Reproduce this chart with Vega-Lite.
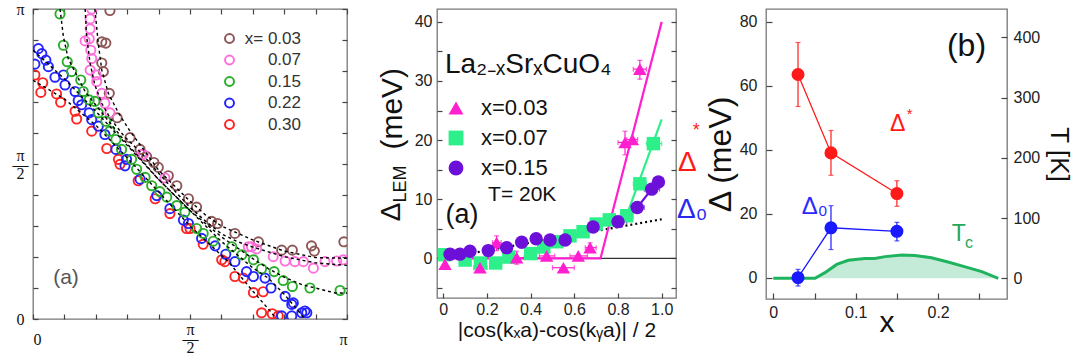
{
  "$schema": "https://vega.github.io/schema/vega-lite/v6.json",
  "background": "white",
  "padding": {"left": 11, "top": 0, "right": 0, "bottom": 0},
  "bounds": "flush",
  "spacing": 90,
  "resolve": {"scale": {"color": "independent", "shape": "independent"}, "legend": {"color": "independent", "shape": "independent"}},
  "config": {
    "font": "Liberation Sans",
    "view": {"stroke": "#777", "strokeWidth": 1.3},
    "axis": {"grid": false, "domain": false, "tickColor": "#444", "tickWidth": 1.2, "labelColor": "#222", "titleColor": "#111", "titleFontWeight": "normal", "labelFont": "Liberation Sans", "titleFont": "Liberation Sans", "labelOverlap": false},
    "legend": {"labelFont": "Liberation Sans"}
  },
  "datasets": {
    "fs": [
      {"s":"0.30","kx":0.006,"ky":0.787},{"s":"0.30","kx":0.031,"ky":0.762},{"s":"0.30","kx":0.025,"ky":0.731},{"s":"0.30","kx":0.075,"ky":0.726},{"s":"0.30","kx":0.088,"ky":0.699},{"s":"0.30","kx":0.134,"ky":0.670},{"s":"0.30","kx":0.139,"ky":0.645},{"s":"0.30","kx":0.187,"ky":0.606},{"s":"0.30","kx":0.235,"ky":0.550},{"s":"0.30","kx":0.272,"ky":0.515},{"s":"0.30","kx":0.277,"ky":0.499},{"s":"0.30","kx":0.335,"ky":0.446},{"s":"0.30","kx":0.389,"ky":0.388},{"s":"0.30","kx":0.436,"ky":0.340},{"s":"0.30","kx":0.489,"ky":0.292},{"s":"0.30","kx":0.5,"ky":0.292},{"s":"0.30","kx":0.542,"ky":0.241},{"s":"0.30","kx":0.601,"ky":0.191},{"s":"0.30","kx":0.611,"ky":0.185},{"s":"0.30","kx":0.643,"ky":0.137},{"s":"0.30","kx":0.670,"ky":0.132},{"s":"0.30","kx":0.702,"ky":0.085},{"s":"0.30","kx":0.733,"ky":0.088},{"s":"0.30","kx":0.728,"ky":0.020},{"s":"0.30","kx":0.762,"ky":0.017},{"s":"0.30","kx":0.781,"ky":0.010},
      {"s":"0.22","kx":0.017,"ky":0.872},{"s":"0.22","kx":0.028,"ky":0.856},{"s":"0.22","kx":0.006,"ky":0.822},{"s":"0.22","kx":0.041,"ky":0.835},{"s":"0.22","kx":0.049,"ky":0.814},{"s":"0.22","kx":0.070,"ky":0.780},{"s":"0.22","kx":0.097,"ky":0.787},{"s":"0.22","kx":0.102,"ky":0.755},{"s":"0.22","kx":0.134,"ky":0.734},{"s":"0.22","kx":0.144,"ky":0.705},{"s":"0.22","kx":0.155,"ky":0.691},{"s":"0.22","kx":0.179,"ky":0.665},{"s":"0.22","kx":0.187,"ky":0.643},{"s":"0.22","kx":0.208,"ky":0.622},{"s":"0.22","kx":0.229,"ky":0.595},{"s":"0.22","kx":0.264,"ky":0.547},{"s":"0.22","kx":0.298,"ky":0.515},{"s":"0.22","kx":0.293,"ky":0.494},{"s":"0.22","kx":0.341,"ky":0.451},{"s":"0.22","kx":0.394,"ky":0.398},{"s":"0.22","kx":0.436,"ky":0.356},{"s":"0.22","kx":0.479,"ky":0.319},{"s":"0.22","kx":0.495,"ky":0.308},{"s":"0.22","kx":0.537,"ky":0.260},{"s":"0.22","kx":0.580,"ky":0.236},{"s":"0.22","kx":0.614,"ky":0.209},{"s":"0.22","kx":0.643,"ky":0.185},{"s":"0.22","kx":0.680,"ky":0.153},{"s":"0.22","kx":0.702,"ky":0.137},{"s":"0.22","kx":0.739,"ky":0.132},{"s":"0.22","kx":0.758,"ky":0.100},{"s":"0.22","kx":0.792,"ky":0.010},{"s":"0.22","kx":0.803,"ky":0.073},{"s":"0.22","kx":0.824,"ky":0.047},{"s":"0.22","kx":0.829,"ky":0.052},{"s":"0.22","kx":0.856,"ky":0.020},{"s":"0.22","kx":0.866,"ky":0.026},{"s":"0.22","kx":0.824,"ky":0.010},{"s":"0.22","kx":0.872,"ky":0.020},
      {"s":"0.03","kx":0.245,"ky":0.995},{"s":"0.03","kx":0.219,"ky":0.894},{"s":"0.03","kx":0.232,"ky":0.890},{"s":"0.03","kx":0.219,"ky":0.826},{"s":"0.03","kx":0.224,"ky":0.798},{"s":"0.03","kx":0.243,"ky":0.728},{"s":"0.03","kx":0.268,"ky":0.649},{"s":"0.03","kx":0.309,"ky":0.585},{"s":"0.03","kx":0.341,"ky":0.547},{"s":"0.03","kx":0.362,"ky":0.524},{"s":"0.03","kx":0.385,"ky":0.505},{"s":"0.03","kx":0.399,"ky":0.489},{"s":"0.03","kx":0.431,"ky":0.462},{"s":"0.03","kx":0.458,"ky":0.430},{"s":"0.03","kx":0.495,"ky":0.388},{"s":"0.03","kx":0.521,"ky":0.361},{"s":"0.03","kx":0.569,"ky":0.315},{"s":"0.03","kx":0.588,"ky":0.308},{"s":"0.03","kx":0.643,"ky":0.276},{"s":"0.03","kx":0.718,"ky":0.249},{"s":"0.03","kx":0.792,"ky":0.222},{"s":"0.03","kx":0.826,"ky":0.222},{"s":"0.03","kx":0.887,"ky":0.236},{"s":"0.03","kx":0.896,"ky":0.219},{"s":"0.03","kx":0.990,"ky":0.249},
      {"s":"0.07","kx":0.187,"ky":1.0},{"s":"0.07","kx":0.182,"ky":0.968},{"s":"0.07","kx":0.182,"ky":0.936},{"s":"0.07","kx":0.179,"ky":0.904},{"s":"0.07","kx":0.166,"ky":0.897},{"s":"0.07","kx":0.184,"ky":0.867},{"s":"0.07","kx":0.187,"ky":0.840},{"s":"0.07","kx":0.182,"ky":0.803},{"s":"0.07","kx":0.201,"ky":0.787},{"s":"0.07","kx":0.203,"ky":0.766},{"s":"0.07","kx":0.219,"ky":0.728},{"s":"0.07","kx":0.229,"ky":0.696},{"s":"0.07","kx":0.245,"ky":0.665},{"s":"0.07","kx":0.346,"ky":0.531},{"s":"0.07","kx":0.351,"ky":0.531},{"s":"0.07","kx":0.42,"ky":0.455},{"s":"0.07","kx":0.686,"ky":0.233},{"s":"0.07","kx":0.696,"ky":0.233},{"s":"0.07","kx":0.712,"ky":0.226},{"s":"0.07","kx":0.765,"ky":0.201},{"s":"0.07","kx":0.803,"ky":0.187},{"s":"0.07","kx":0.834,"ky":0.185},{"s":"0.07","kx":0.861,"ky":0.185},{"s":"0.07","kx":0.893,"ky":0.164},{"s":"0.07","kx":0.930,"ky":0.185},{"s":"0.07","kx":0.967,"ky":0.187},{"s":"0.07","kx":0.988,"ky":0.191},
      {"s":"0.15","kx":0.086,"ky":0.984},{"s":"0.15","kx":0.097,"ky":0.883},{"s":"0.15","kx":0.109,"ky":0.830},{"s":"0.15","kx":0.123,"ky":0.798},{"s":"0.15","kx":0.152,"ky":0.771},{"s":"0.15","kx":0.160,"ky":0.734},{"s":"0.15","kx":0.179,"ky":0.707},{"s":"0.15","kx":0.197,"ky":0.702},{"s":"0.15","kx":0.208,"ky":0.665},{"s":"0.15","kx":0.232,"ky":0.638},{"s":"0.15","kx":0.245,"ky":0.606},{"s":"0.15","kx":0.264,"ky":0.579},{"s":"0.15","kx":0.282,"ky":0.547},{"s":"0.15","kx":0.314,"ky":0.515},{"s":"0.15","kx":0.330,"ky":0.483},{"s":"0.15","kx":0.357,"ky":0.457},{"s":"0.15","kx":0.378,"ky":0.430},{"s":"0.15","kx":0.404,"ky":0.411},{"s":"0.15","kx":0.426,"ky":0.393},{"s":"0.15","kx":0.458,"ky":0.366},{"s":"0.15","kx":0.484,"ky":0.345},{"s":"0.15","kx":0.521,"ky":0.292},{"s":"0.15","kx":0.542,"ky":0.276},{"s":"0.15","kx":0.574,"ky":0.251},{"s":"0.15","kx":0.633,"ky":0.233},{"s":"0.15","kx":0.665,"ky":0.207},{"s":"0.15","kx":0.702,"ky":0.191},{"s":"0.15","kx":0.728,"ky":0.162},{"s":"0.15","kx":0.768,"ky":0.153},{"s":"0.15","kx":0.797,"ky":0.124},{"s":"0.15","kx":0.826,"ky":0.105},{"s":"0.15","kx":0.882,"ky":0.100},{"s":"0.15","kx":0.978,"ky":0.092}
    ],
    "fits": [
      {"s":"0.03","kx":0.197,"ky":1.0},{"s":"0.03","kx":0.208,"ky":0.888},{"s":"0.03","kx":0.219,"ky":0.803},{"s":"0.03","kx":0.240,"ky":0.728},{"s":"0.03","kx":0.272,"ky":0.665},{"s":"0.03","kx":0.309,"ky":0.606},{"s":"0.03","kx":0.35,"ky":0.55},{"s":"0.03","kx":0.40,"ky":0.48},{"s":"0.03","kx":0.45,"ky":0.43},{"s":"0.03","kx":0.5,"ky":0.38},{"s":"0.03","kx":0.55,"ky":0.335},{"s":"0.03","kx":0.6,"ky":0.3},{"s":"0.03","kx":0.7,"ky":0.255},{"s":"0.03","kx":0.8,"ky":0.219},{"s":"0.03","kx":0.9,"ky":0.198},{"s":"0.03","kx":1.0,"ky":0.196},
      {"s":"0.07","kx":0.166,"ky":1.0},{"s":"0.07","kx":0.171,"ky":0.91},{"s":"0.07","kx":0.182,"ky":0.824},{"s":"0.07","kx":0.197,"ky":0.755},{"s":"0.07","kx":0.219,"ky":0.696},{"s":"0.07","kx":0.245,"ky":0.649},{"s":"0.07","kx":0.29,"ky":0.59},{"s":"0.07","kx":0.35,"ky":0.53},{"s":"0.07","kx":0.4,"ky":0.47},{"s":"0.07","kx":0.45,"ky":0.415},{"s":"0.07","kx":0.5,"ky":0.36},{"s":"0.07","kx":0.55,"ky":0.315},{"s":"0.07","kx":0.6,"ky":0.275},{"s":"0.07","kx":0.65,"ky":0.25},{"s":"0.07","kx":0.7,"ky":0.232},{"s":"0.07","kx":0.8,"ky":0.201},{"s":"0.07","kx":0.9,"ky":0.181},{"s":"0.07","kx":1.0,"ky":0.173},
      {"s":"0.15","kx":0.086,"ky":1.0},{"s":"0.15","kx":0.097,"ky":0.91},{"s":"0.15","kx":0.112,"ky":0.84},{"s":"0.15","kx":0.139,"ky":0.787},{"s":"0.15","kx":0.166,"ky":0.734},{"s":"0.15","kx":0.203,"ky":0.686},{"s":"0.15","kx":0.245,"ky":0.633},{"s":"0.15","kx":0.288,"ky":0.579},{"s":"0.15","kx":0.33,"ky":0.531},{"s":"0.15","kx":0.4,"ky":0.45},{"s":"0.15","kx":0.5,"ky":0.35},{"s":"0.15","kx":0.6,"ky":0.265},{"s":"0.15","kx":0.7,"ky":0.195},{"s":"0.15","kx":0.75,"ky":0.162},{"s":"0.15","kx":0.8,"ky":0.135},{"s":"0.15","kx":0.856,"ky":0.111},{"s":"0.15","kx":0.962,"ky":0.084},{"s":"0.15","kx":1.0,"ky":0.084},
      {"s":"0.22","kx":0.0,"ky":0.867},{"s":"0.22","kx":0.1,"ky":0.775},{"s":"0.22","kx":0.2,"ky":0.67},{"s":"0.22","kx":0.3,"ky":0.56},{"s":"0.22","kx":0.4,"ky":0.45},{"s":"0.22","kx":0.5,"ky":0.35},{"s":"0.22","kx":0.6,"ky":0.25},{"s":"0.22","kx":0.7,"ky":0.165},{"s":"0.22","kx":0.749,"ky":0.132},{"s":"0.22","kx":0.8,"ky":0.08},{"s":"0.22","kx":0.845,"ky":0.026},{"s":"0.22","kx":0.865,"ky":0.0},
      {"s":"0.30","kx":0.0,"ky":0.77},{"s":"0.30","kx":0.1,"ky":0.71},{"s":"0.30","kx":0.2,"ky":0.625},{"s":"0.30","kx":0.3,"ky":0.52},{"s":"0.30","kx":0.4,"ky":0.41},{"s":"0.30","kx":0.5,"ky":0.3},{"s":"0.30","kx":0.622,"ky":0.185},{"s":"0.30","kx":0.7,"ky":0.09},{"s":"0.30","kx":0.755,"ky":0.026},{"s":"0.30","kx":0.775,"ky":0.0}
    ],
    "p2pts": [
      {"s":"0.07","x":0.005,"y":0.6},{"s":"0.07","x":0.1,"y":-0.3},{"s":"0.07","x":0.17,"y":-0.8},{"s":"0.07","x":0.24,"y":-0.8},{"s":"0.07","x":0.3,"y":0.2},{"s":"0.07","x":0.4,"y":0.8},{"s":"0.07","x":0.46,"y":1.9},{"s":"0.07","x":0.52,"y":2.8},{"s":"0.07","x":0.58,"y":3.8},{"s":"0.07","x":0.64,"y":4.5},{"s":"0.07","x":0.7,"y":5.8},{"s":"0.07","x":0.76,"y":6.5},{"s":"0.07","x":0.84,"y":7.2},{"s":"0.07","x":0.9,"y":12.6},{"s":"0.07","x":0.962,"y":19.4},
      {"s":"0.03","x":0.008,"y":-1.0},{"s":"0.03","x":0.168,"y":-1.6},{"s":"0.03","x":0.244,"y":2.65},{"s":"0.03","x":0.336,"y":0.1},{"s":"0.03","x":0.473,"y":0.4},{"s":"0.03","x":0.55,"y":-1.6},{"s":"0.03","x":0.618,"y":0.4},{"s":"0.03","x":0.672,"y":1.8},{"s":"0.03","x":0.832,"y":19.6},{"s":"0.03","x":0.866,"y":20.1},{"s":"0.03","x":0.9,"y":32.0},
      {"s":"0.15","x":0.031,"y":0.68},{"s":"0.15","x":0.076,"y":0.7},{"s":"0.15","x":0.122,"y":1.2},{"s":"0.15","x":0.206,"y":1.3},{"s":"0.15","x":0.29,"y":1.8},{"s":"0.15","x":0.359,"y":2.7},{"s":"0.15","x":0.425,"y":3.3},{"s":"0.15","x":0.489,"y":3.1},{"s":"0.15","x":0.558,"y":3.1},{"s":"0.15","x":0.686,"y":5.3},{"s":"0.15","x":0.8,"y":6.2},{"s":"0.15","x":0.888,"y":8.6},{"s":"0.15","x":0.954,"y":11.7},{"s":"0.15","x":0.985,"y":12.9}
    ],
    "p2err": [
      {"s":"0.03","x":0.168,"y":-1.6,"xlo":0.14,"xhi":0.2,"ylo":-2.4,"yhi":-0.8},
      {"s":"0.03","x":0.244,"y":2.65,"xlo":0.225,"xhi":0.265,"ylo":1.3,"yhi":3.8},
      {"s":"0.03","x":0.336,"y":0.1,"xlo":0.3,"xhi":0.37,"ylo":-1.0,"yhi":1.2},
      {"s":"0.03","x":0.473,"y":0.4,"xlo":0.44,"xhi":0.51},
      {"s":"0.03","x":0.55,"y":-1.6,"xlo":0.5,"xhi":0.6},
      {"s":"0.03","x":0.618,"y":0.4,"xlo":0.58,"xhi":0.66},
      {"s":"0.03","x":0.672,"y":1.8,"xlo":0.65,"xhi":0.7,"ylo":1.0,"yhi":2.6},
      {"s":"0.03","x":0.832,"y":19.6,"xlo":0.8,"xhi":0.86,"ylo":17.5,"yhi":21.5},
      {"s":"0.03","x":0.866,"y":20.1,"xlo":0.84,"xhi":0.89},
      {"s":"0.03","x":0.9,"y":32.0,"xlo":0.87,"xhi":0.93,"ylo":30.3,"yhi":33.5},
      {"s":"0.07","x":0.58,"y":3.8,"xlo":0.55,"xhi":0.61},
      {"s":"0.07","x":0.7,"y":5.8,"xlo":0.67,"xhi":0.73},
      {"s":"0.07","x":0.84,"y":7.2,"xlo":0.81,"xhi":0.87},
      {"s":"0.07","x":0.9,"y":12.6,"xlo":0.87,"xhi":0.93},
      {"s":"0.07","x":0.962,"y":19.4,"xlo":0.93,"xhi":1.0},
      {"s":"0.15","x":0.686,"y":5.3,"xlo":0.66,"xhi":0.72},
      {"s":"0.15","x":0.8,"y":6.2,"xlo":0.77,"xhi":0.84},
      {"s":"0.15","x":0.888,"y":8.6,"xlo":0.86,"xhi":0.92},
      {"s":"0.15","x":0.954,"y":11.7,"xlo":0.92,"xhi":0.99}
    ],
    "p2fit": [
      {"s":"0.03","x":0.0,"y":0},{"s":"0.03","x":0.72,"y":0},{"s":"0.03","x":1.0,"y":40},
      {"s":"0.07","x":0.835,"y":6.8},{"s":"0.07","x":1.0,"y":23.5},
      {"s":"0.15","x":0.888,"y":8.6},{"s":"0.15","x":0.954,"y":11.7},{"s":"0.15","x":0.985,"y":12.9}
    ],
    "p2dot": [{"x":0.0,"y":0.0},{"x":1.0,"y":6.6}],
    "p3pts": [
      {"s":"Δ*","x":0.03,"y":63.5,"lo":53.5,"hi":73.5},
      {"s":"Δ*","x":0.07,"y":39.0,"lo":32.0,"hi":46.0},
      {"s":"Δ*","x":0.15,"y":26.3,"lo":22.3,"hi":30.3},
      {"s":"Δ0","x":0.03,"y":0.0,"lo":-2.6,"hi":2.6},
      {"s":"Δ0","x":0.07,"y":15.6,"lo":8.8,"hi":22.5},
      {"s":"Δ0","x":0.15,"y":14.5,"lo":11.5,"hi":17.3}
    ],
    "p3tc": [
      {"x":0.0,"T":0},{"x":0.0506,"T":0},{"x":0.0627,"T":9.4},{"x":0.077,"T":23},{"x":0.091,"T":30},{"x":0.111,"T":33},{"x":0.123,"T":33},{"x":0.1356,"T":36},{"x":0.156,"T":38.5},{"x":0.172,"T":38},{"x":0.192,"T":34},{"x":0.212,"T":27},{"x":0.233,"T":19},{"x":0.253,"T":11},{"x":0.273,"T":0}
    ]
  },
  "hconcat": [
    {
      "width": 314,
      "height": 310,
      "layer": [
        {
          "data": {"name": "fs"},
          "mark": {"type": "point", "filled": false, "size": 85, "strokeWidth": 1.9, "opacity": 1, "clip": true},
          "encoding": {
            "x": {"field": "kx", "type": "quantitative", "scale": {"domain": [0, 1], "nice": false, "zero": false},
              "axis": {"orient": "bottom", "values": [0,0.1,0.2,0.3,0.4,0.5,0.6,0.7,0.8,0.9,1], "tickSize": -5, "labelPadding": {"condition": {"test": "datum.value == 0.5", "value": 7}, "value": 17}, "labelBaseline": "top", "labelFlush": true, "labelFont": "Liberation Serif", "labelFontSize": 16, "labelLineHeight": 9, "labelColor": "#111", "labelExpr": "datum.value == 0 ? '0' : datum.value == 0.5 ? ['π','—','2'] : datum.value == 1 ? 'π' : ''", "title": null}},
            "y": {"field": "ky", "type": "quantitative", "scale": {"domain": [0, 1], "nice": false, "zero": false},
              "axis": {"orient": "left", "values": [0,0.1,0.2,0.3,0.4,0.5,0.6,0.7,0.8,0.9,1], "tickSize": -5, "labelPadding": 18, "labelOffset": {"condition": {"test": "datum.value == 0.5", "value": -9}, "value": 0}, "labelAlign": "center", "labelBaseline": "middle", "labelFont": "Liberation Serif", "labelFontSize": 16, "labelLineHeight": 9, "labelColor": "#111", "labelExpr": "datum.value == 0 ? '0' : datum.value == 0.5 ? ['π','—','2'] : datum.value == 1 ? 'π' : ''", "title": null}},
            "color": {"field": "s", "type": "nominal",
              "scale": {"domain": ["0.03","0.07","0.15","0.22","0.30"], "range": ["#8E5656","#FF6EDC","#2BAE2B","#2424FF","#FF2424"]},
              "legend": {"orient": "none", "legendX": 188, "legendY": 21, "title": null, "labelAlign": "right", "labelOffset": 63, "labelFontSize": 17, "labelColor": "#333", "symbolType": "circle", "symbolSize": 80, "symbolStrokeWidth": 2, "symbolFillColor": "transparent", "rowPadding": 3.5, "labelExpr": "datum.label == '0.03' ? 'x= 0.03' : datum.label"}}
          }
        },
        {
          "data": {"name": "fits"},
          "mark": {"type": "line", "color": "#000", "strokeDash": [3, 3], "strokeWidth": 1.4, "clip": true},
          "encoding": {
            "x": {"field": "kx", "type": "quantitative", "axis": {"orient": "top", "values": [0,0.1,0.2,0.3,0.4,0.5,0.6,0.7,0.8,0.9,1], "tickSize": -5, "labels": false, "title": null}},
            "y": {"field": "ky", "type": "quantitative", "axis": {"orient": "right", "values": [0,0.1,0.2,0.3,0.4,0.5,0.6,0.7,0.8,0.9,1], "tickSize": -5, "labels": false, "title": null}},
            "detail": {"field": "s", "type": "nominal"}
          }
        },
        {
          "data": {"values": [{}]},
          "mark": {"type": "text", "text": "(a)", "fontSize": 21, "color": "#555", "align": "center", "baseline": "middle"},
          "encoding": {"x": {"datum": 0.105, "type": "quantitative", "axis": null}, "y": {"datum": 0.131, "type": "quantitative", "axis": null}}
        }
      ],
      "resolve": {"axis": {"x": "independent", "y": "independent"}}
    },
    {
      "width": 239,
      "height": 289,
      "layer": [
        {
          "data": {"values": [{}]},
          "mark": {"type": "rule", "color": "#333", "strokeWidth": 1.3},
          "encoding": {
            "y": {"datum": 0, "type": "quantitative", "scale": {"domain": [-6.72, 42.18], "nice": false, "zero": false},
              "axis": {"orient": "left", "values": [-5,0,5,10,15,20,25,30,35,40], "tickSize": -5, "labelPadding": 10, "labelFontSize": 16, "labelExpr": "datum.value % 10 == 0 ? datum.label : ''", "title": null}}
          }
        },
        {
          "data": {"name": "p2dot"},
          "mark": {"type": "line", "color": "#000", "strokeDash": [2, 3], "strokeWidth": 2.2},
          "encoding": {
            "x": {"field": "x", "type": "quantitative", "scale": {"domain": [-0.0288, 1.0655], "nice": false, "zero": false},
              "axis": {"orient": "bottom", "values": [0,0.2,0.4,0.6,0.8,1], "tickSize": -5, "labelPadding": 8, "labelFontSize": 16, "labelFlush": false, "labelExpr": "datum.value == 0 ? '0' : format(datum.value, '.1f')", "title": "|cos(kₓa)-cos(kᵧa)| / 2", "titleFontSize": 21, "titlePadding": 2}},
            "y": {"field": "y", "type": "quantitative", "axis": {"orient": "right", "values": [-5,0,5,10,15,20,25,30,35,40], "tickSize": -5, "labels": false, "title": null}}
          }
        },
        {
          "data": {"name": "p2fit"},
          "mark": {"type": "line", "strokeWidth": 2.2},
          "encoding": {
            "x": {"field": "x", "type": "quantitative", "axis": null},
            "y": {"field": "y", "type": "quantitative", "axis": null},
            "color": {"field": "s", "type": "nominal", "legend": null}
          }
        },
        {
          "data": {"name": "p2err"},
          "transform": [{"filter": "isValid(datum.xlo)"}],
          "mark": {"type": "errorbar", "ticks": true, "thickness": 1.2},
          "encoding": {
            "x": {"field": "xlo", "type": "quantitative", "axis": null},
            "x2": {"field": "xhi"},
            "y": {"field": "y", "type": "quantitative", "axis": null},
            "color": {"field": "s", "type": "nominal", "legend": null}
          }
        },
        {
          "data": {"name": "p2err"},
          "transform": [{"filter": "isValid(datum.ylo)"}],
          "mark": {"type": "errorbar", "ticks": true, "thickness": 1.2},
          "encoding": {
            "x": {"field": "x", "type": "quantitative", "axis": null},
            "y": {"field": "ylo", "type": "quantitative", "axis": null},
            "y2": {"field": "yhi"},
            "color": {"field": "s", "type": "nominal", "legend": null}
          }
        },
        {
          "data": {"name": "p2pts"},
          "mark": {"type": "point", "filled": true, "size": 180, "opacity": 1},
          "encoding": {
            "x": {"field": "x", "type": "quantitative", "axis": null},
            "y": {"field": "y", "type": "quantitative", "axis": null},
            "color": {"field": "s", "type": "nominal", "scale": {"domain": ["0.03","0.07","0.15"], "range": ["#FF1FCF","#2EF08A","#6B0FD9"]},
              "legend": {"orient": "none", "legendX": 8, "legendY": 88, "title": null, "labelFontSize": 22, "labelColor": "#111", "labelOffset": 14, "rowPadding": 8, "symbolSize": 220, "labelExpr": "'x=' + datum.label"}},
            "shape": {"field": "s", "type": "nominal", "scale": {"domain": ["0.03","0.07","0.15"], "range": ["triangle-up","square","circle"]},
              "legend": {"orient": "none", "legendX": 8, "legendY": 88, "title": null, "labelFontSize": 22, "labelColor": "#111", "labelOffset": 14, "rowPadding": 8, "symbolSize": 220, "labelExpr": "'x=' + datum.label"}}
          }
        },
        {
          "data": {"values": [{}]},
          "mark": {"type": "text", "text": "La₂₋ₓSrₓCuO₄", "fontSize": 28, "color": "#111", "align": "left", "baseline": "alphabetic"},
          "encoding": {"x": {"datum": 0.008, "type": "quantitative", "axis": null}, "y": {"datum": 31.35, "type": "quantitative", "axis": null}}
        },
        {
          "data": {"values": [{}]},
          "mark": {"type": "text", "text": "T= 20K", "fontSize": 21, "color": "#111", "align": "left", "baseline": "alphabetic"},
          "encoding": {"x": {"datum": 0.205, "type": "quantitative", "axis": null}, "y": {"datum": 9.7, "type": "quantitative", "axis": null}}
        },
        {
          "data": {"values": [{}]},
          "mark": {"type": "text", "text": "(a)", "fontSize": 27, "color": "#111", "align": "left", "baseline": "alphabetic"},
          "encoding": {"x": {"datum": 0.01, "type": "quantitative", "axis": null}, "y": {"datum": 6.0, "type": "quantitative", "axis": null}}
        },
        {
          "data": {"values": [{}]},
          "mark": {"type": "text", "text": "Δ", "fontSize": 28, "color": "#FF1A1A", "align": "left", "baseline": "alphabetic"},
          "encoding": {"x": {"datum": 1.075, "type": "quantitative", "axis": null}, "y": {"datum": 14.75, "type": "quantitative", "axis": null}}
        },
        {
          "data": {"values": [{}]},
          "mark": {"type": "text", "text": "*", "fontSize": 18, "color": "#FF1A1A", "align": "left", "baseline": "alphabetic"},
          "encoding": {"x": {"datum": 1.142, "type": "quantitative", "axis": null}, "y": {"datum": 20.7, "type": "quantitative", "axis": null}}
        },
        {
          "data": {"values": [{}]},
          "mark": {"type": "text", "text": "Δ₀", "fontSize": 28, "color": "#2A2AEE", "align": "left", "baseline": "alphabetic"},
          "encoding": {"x": {"datum": 1.07, "type": "quantitative", "axis": null}, "y": {"datum": 6.8, "type": "quantitative", "axis": null}}
        },
        {
          "data": {"values": [{}]},
          "mark": {"type": "text", "text": "Δ", "fontSize": 28, "angle": 270, "color": "#111", "align": "center", "baseline": "middle"},
          "encoding": {"x": {"datum": -0.235, "type": "quantitative", "axis": null}, "y": {"datum": 7.83, "type": "quantitative", "axis": null}}
        },
        {
          "data": {"values": [{}]},
          "mark": {"type": "text", "text": "LEM", "fontSize": 18, "angle": 270, "color": "#111", "align": "center", "baseline": "middle"},
          "encoding": {"x": {"datum": -0.194, "type": "quantitative", "axis": null}, "y": {"datum": 12.57, "type": "quantitative", "axis": null}}
        },
        {
          "data": {"values": [{}]},
          "mark": {"type": "text", "text": "(meV)", "fontSize": 30, "angle": 270, "color": "#111", "align": "center", "baseline": "middle"},
          "encoding": {"x": {"datum": -0.23, "type": "quantitative", "axis": null}, "y": {"datum": 25.3, "type": "quantitative", "axis": null}}
        }
      ],
      "resolve": {"axis": {"x": "independent", "y": "independent"}, "legend": {"color": "independent", "shape": "independent"}}
    },
    {
      "width": 241,
      "height": 290,
      "layer": [
        {
          "layer": [
            {
              "data": {"name": "p3tc"},
              "mark": {"type": "area", "color": "#3DBE7A", "opacity": 0.3},
              "encoding": {
                "x": {"field": "x", "type": "quantitative", "scale": {"domain": [-0.00886, 0.2836], "nice": false, "zero": false},
                  "axis": {"orient": "bottom", "values": [0,0.05,0.1,0.15,0.2,0.25], "tickSize": -6, "labelPadding": 11, "labelFontSize": 16, "labelFlush": false, "labelExpr": "datum.value == 0 ? '0' : (datum.value == 0.1 || datum.value == 0.2) ? format(datum.value, '.1f') : ''", "title": "x", "titleFontSize": 30, "titlePadding": -13}},
                "y": {"field": "T", "type": "quantitative", "scale": {"domain": [-34.4, 447.3], "nice": false, "zero": false},
                  "axis": {"orient": "right", "values": [0,100,200,300,400], "tickSize": -6, "labelPadding": 12, "labelFontSize": 16, "title": "T [K]", "titleFontSize": 26, "titleAngle": 90, "titlePadding": 6}},
                "y2": {"datum": 0}
              }
            },
            {
              "data": {"name": "p3tc"},
              "mark": {"type": "line", "color": "#1FB35F", "strokeWidth": 3},
              "encoding": {
                "x": {"field": "x", "type": "quantitative", "axis": null},
                "y": {"field": "T", "type": "quantitative", "axis": null}
              }
            }
          ],
          "resolve": {"axis": {"x": "independent", "y": "independent"}}
        },
        {
          "layer": [
            {
              "data": {"name": "p3pts"},
              "mark": {"type": "line", "strokeWidth": 1.3},
              "encoding": {
                "x": {"field": "x", "type": "quantitative", "axis": null},
                "y": {"field": "y", "type": "quantitative", "scale": {"domain": [-6.66, 83.97], "nice": false, "zero": false},
                  "axis": {"orient": "left", "values": [0,20,40,60,80], "tickSize": -6, "labelPadding": 15, "labelFontSize": 16, "title": "Δ (meV)", "titleFontSize": 32, "titlePadding": 2}},
                "color": {"field": "s", "type": "nominal", "scale": {"domain": ["Δ*","Δ0"], "range": ["#FF1A1A","#1A1AFF"]}, "legend": null}
              }
            },
            {
              "data": {"name": "p3pts"},
              "mark": {"type": "errorbar", "ticks": true, "thickness": 1.2},
              "encoding": {
                "x": {"field": "x", "type": "quantitative", "axis": null},
                "y": {"field": "lo", "type": "quantitative", "axis": null},
                "y2": {"field": "hi"},
                "color": {"field": "s", "type": "nominal", "legend": null}
              }
            },
            {
              "data": {"name": "p3pts"},
              "mark": {"type": "point", "filled": true, "size": 170, "opacity": 1},
              "encoding": {
                "x": {"field": "x", "type": "quantitative", "axis": null},
                "y": {"field": "y", "type": "quantitative", "axis": null},
                "color": {"field": "s", "type": "nominal", "legend": null}
              }
            },
            {
              "data": {"values": [{}]},
              "mark": {"type": "text", "text": "(b)", "fontSize": 32, "color": "#111", "align": "left", "baseline": "alphabetic"},
              "encoding": {"x": {"datum": 0.2107, "type": "quantitative", "axis": null}, "y": {"datum": 69.3, "type": "quantitative", "axis": null}}
            },
            {
              "data": {"values": [{}]},
              "mark": {"type": "text", "text": "Δ", "fontSize": 23, "color": "#FF1A1A", "align": "left", "baseline": "alphabetic"},
              "encoding": {"x": {"datum": 0.1415, "type": "quantitative", "axis": null}, "y": {"datum": 45.8, "type": "quantitative", "axis": null}}
            },
            {
              "data": {"values": [{}]},
              "mark": {"type": "text", "text": "*", "fontSize": 15, "color": "#FF1A1A", "align": "left", "baseline": "alphabetic"},
              "encoding": {"x": {"datum": 0.162, "type": "quantitative", "axis": null}, "y": {"datum": 49.6, "type": "quantitative", "axis": null}}
            },
            {
              "data": {"values": [{}]},
              "mark": {"type": "text", "text": "Δ₀", "fontSize": 24, "color": "#2A2AFF", "align": "left", "baseline": "alphabetic"},
              "encoding": {"x": {"datum": 0.0345, "type": "quantitative", "axis": null}, "y": {"datum": 19.9, "type": "quantitative", "axis": null}}
            },
            {
              "data": {"values": [{}]},
              "mark": {"type": "text", "text": "T", "fontSize": 23, "color": "#1FA85A", "align": "left", "baseline": "alphabetic"},
              "encoding": {"x": {"datum": 0.2165, "type": "quantitative", "axis": null}, "y": {"datum": 11.5, "type": "quantitative", "axis": null}}
            },
            {
              "data": {"values": [{}]},
              "mark": {"type": "text", "text": "c", "fontSize": 16, "color": "#1FA85A", "align": "left", "baseline": "alphabetic"},
              "encoding": {"x": {"datum": 0.2327, "type": "quantitative", "axis": null}, "y": {"datum": 9.4, "type": "quantitative", "axis": null}}
            }
          ],
          "resolve": {"axis": {"x": "independent", "y": "independent"}}
        }
      ],
      "resolve": {"scale": {"y": "independent"}, "axis": {"x": "independent", "y": "independent"}}
    }
  ]
}
